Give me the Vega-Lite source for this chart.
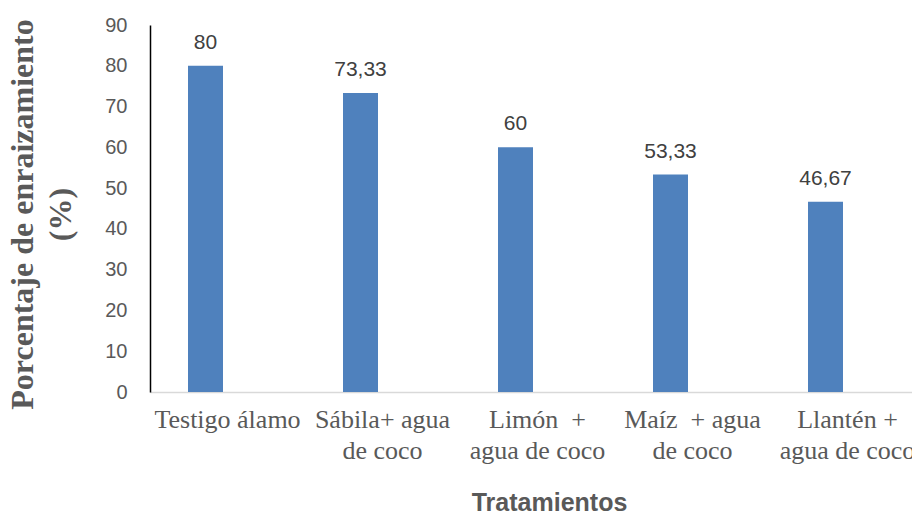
{
  "$schema": "https://vega.github.io/schema/vega-lite/v6.json",
  "autosize": {"type": "none"},
  "width": 762,
  "height": 367,
  "padding": {"left": 150, "top": 25, "right": 0, "bottom": 120},
  "background": "white",
  "config": {
    "view": {"stroke": null},
    "locale": {"number": {"decimal": ",", "thousands": ".", "grouping": [3], "currency": ["", " €"]}}
  },
  "data": {
    "values": [
      {"tratamiento": "Testigo álamo", "porcentaje": 80},
      {"tratamiento": "Sábila+ agua de coco", "porcentaje": 73.33},
      {"tratamiento": "Limón + agua de coco", "porcentaje": 60},
      {"tratamiento": "Maíz + agua de coco", "porcentaje": 53.33},
      {"tratamiento": "Llantén + agua de coco", "porcentaje": 46.67}
    ]
  },
  "encoding": {
    "x": {
      "field": "tratamiento",
      "type": "nominal",
      "sort": null,
      "scale": {"range": [0, 775], "paddingInner": 0, "paddingOuter": 0},
      "axis": {
        "title": "Tratamientos",
        "titleFont": "Liberation Sans",
        "titleFontSize": 25,
        "titleFontWeight": "bold",
        "titleColor": "#595959",
        "titleX": 399,
        "titleY": 118,
        "titleAnchor": null,
        "titleAlign": "center",
        "titleBaseline": "alphabetic",
        "labelAngle": 0,
        "labelFont": "Liberation Serif",
        "labelFontSize": 26,
        "labelColor": "#595959",
        "labelPadding": 14,
        "labelLineHeight": 31,
        "labelExpr": "datum.value == 'Sábila+ agua de coco' ? ['Sábila+ agua', 'de coco'] : datum.value == 'Limón + agua de coco' ? ['Limón\u00a0 +', 'agua de coco'] : datum.value == 'Maíz + agua de coco' ? ['Maíz\u00a0 + agua', 'de coco'] : datum.value == 'Llantén + agua de coco' ? ['Llantén +', 'agua de coco'] : datum.value",
        "labelOverlap": false,
        "labelBound": false,
        "ticks": false,
        "domainColor": "#d9d9d9",
        "domainWidth": 1.5
      }
    },
    "y": {
      "field": "porcentaje",
      "type": "quantitative",
      "scale": {"domain": [0, 90]},
      "axis": {
        "title": ["Porcentaje de enraizamiento", "(%)"],
        "titleFont": "Liberation Serif",
        "titleFontSize": 32,
        "titleFontWeight": "bold",
        "titleColor": "#595959",
        "titleLineHeight": 38,
        "titleAngle": 270,
        "titleX": -128,
        "titleY": 189,
        "titleAlign": "center",
        "titleBaseline": "middle",
        "values": [0, 10, 20, 30, 40, 50, 60, 70, 80, 90],
        "labelFont": "Liberation Sans",
        "labelFontSize": 20,
        "labelColor": "#595959",
        "labelPadding": 23,
        "ticks": false,
        "grid": false,
        "domainColor": "#000000",
        "domainWidth": 1.5
      }
    }
  },
  "layer": [
    {
      "mark": {"type": "bar", "color": "#4F81BD", "size": 35, "xOffset": -22}
    },
    {
      "mark": {"type": "text", "xOffset": -22, "dy": -17, "baseline": "alphabetic", "font": "Liberation Sans", "fontSize": 21, "color": "#404040"},
      "encoding": {
        "text": {"field": "porcentaje", "type": "quantitative", "format": ".4~g"}
      }
    }
  ]
}
